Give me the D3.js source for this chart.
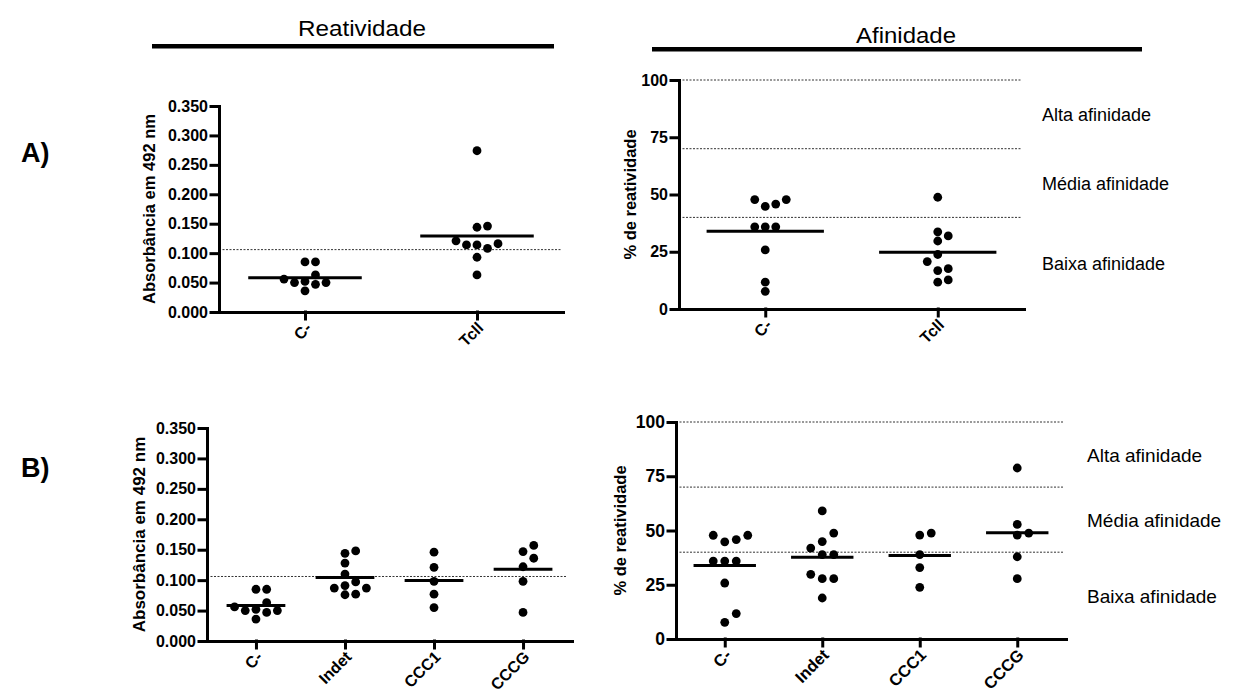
<!DOCTYPE html>
<html>
<head>
<meta charset="utf-8">
<script src="https://cdn.jsdelivr.net/npm/d3@7"></script>
<style>
  body { margin: 0; background: #fff; }
  text { font-family: Arial, "Liberation Sans", Helvetica, sans-serif; fill: #000; }
</style>
</head>
<body>
<div id="chart"></div>
<script>
// categories
var catsA = ["C-", "Tcll"];
var catsB = ["C-", "Indet", "CCC1", "CCCG"];

// absorbance at 492 nm (reactivity)
var absCneg  = [0.085, 0.085, 0.063, 0.056, 0.052, 0.050, 0.050, 0.047, 0.036];
var absTcll  = [0.274, 0.146, 0.144, 0.121, 0.116, 0.114, 0.114, 0.108, 0.093, 0.063];
var absIndet = [0.148, 0.144, 0.128, 0.110, 0.097, 0.091, 0.087, 0.087, 0.077, 0.076];
var absCCC1  = [0.146, 0.121, 0.098, 0.077, 0.055];
var absCCCG  = [0.157, 0.147, 0.136, 0.122, 0.098, 0.047];

// % reactivity (affinity)
var pctCneg  = [47.8, 47.8, 45.8, 44.8, 35.9, 35.9, 35.9, 25.8, 11.7, 7.7];
var pctTcll  = [48.8, 33.7, 31.9, 29.7, 23.8, 20.7, 17.6, 16.8, 12.7, 11.7];
var pctIndet = [59.0, 48.8, 44.9, 41.9, 38.9, 38.9, 29.8, 27.8, 27.8, 18.9];
var pctCCC1  = [48.8, 47.9, 38.9, 32.9, 23.8];
var pctCCCG  = [78.8, 52.8, 48.8, 47.9, 37.9, 27.8];

// ticks and reference lines
var absTicks = [0, 0.05, 0.10, 0.15, 0.20, 0.25, 0.30, 0.35];
var pctTicks = [0, 25, 50, 75, 100];
var absCutoff = [0.106];
var affinityCuts = [40, 70, 100];
var affinityLabels = ["Baixa afinidade", "Média afinidade", "Alta afinidade"];

var svg = d3.select("#chart").append("svg")
  .attr("width", 1234)
  .attr("height", 693)
  .style("background", "#fff");

// simple dot-plot layout: spread points that overlap vertically
function swarm(vals, y, minD) {
  var placed = [];
  var out = new Array(vals.length);
  var order = vals.map(function(v, i) { return i; })
    .sort(function(a, b) { return vals[a] - vals[b]; });
  order.forEach(function(i) {
    var py = y(vals[i]);
    for (var k = 0; ; k++) {
      var o = k === 0 ? 0 : (k % 2 ? (k + 1) / 2 : -k / 2);
      var hit = placed.some(function(p) { return p.o === o && Math.abs(p.y - py) < minD; });
      if (!hit) { placed.push({o: o, y: py}); out[i] = o; break; }
    }
  });
  return out;
}

function drawPanel(p) {
  var x = d3.scalePoint().domain(p.cats).range([p.left, p.right]).padding(p.pad);
  var y = d3.scaleLinear().domain(p.domain).range([p.bottom, p.top]);
  var g = svg.append("g");

  // dotted reference lines
  g.selectAll(".ref").data(p.refs).enter().append("line")
    .attr("x1", p.left).attr("x2", p.refEnd)
    .attr("y1", function(d) { return y(d); })
    .attr("y2", function(d) { return y(d); })
    .attr("stroke", "#333").attr("stroke-width", 1)
    .attr("stroke-dasharray", "2,1.5");

  // y axis
  var ya = g.append("g").attr("transform", "translate(" + p.left + ",0)")
    .call(d3.axisLeft(y).tickValues(p.ticks).tickFormat(p.fmt)
      .tickSize(8).tickSizeOuter(0).tickPadding(3));
  ya.selectAll("path, line").attr("stroke", "#000").attr("stroke-width", 3)
    .attr("stroke-linecap", "square");
  ya.selectAll("text").attr("font-size", p.tickFont).attr("font-weight", "bold")
    .attr("font-family", null).attr("fill", "#000");

  // x axis
  var xa = g.append("g").attr("transform", "translate(0," + p.bottom + ")")
    .call(d3.axisBottom(x).tickSize(7).tickSizeOuter(0));
  xa.selectAll("path, line").attr("stroke", "#000").attr("stroke-width", 3)
    .attr("stroke-linecap", "square");
  xa.selectAll("text")
    .attr("x", 0).attr("y", 0).attr("dy", "0.35em")
    .attr("transform", "translate(3,13) rotate(-45)")
    .attr("text-anchor", "end")
    .attr("font-size", p.labelFont).attr("font-weight", "bold")
    .attr("font-family", null).attr("fill", "#000");

  // y title
  g.append("text")
    .attr("transform", "translate(" + p.titleX + "," + (p.top + p.bottom) / 2 + ") rotate(-90)")
    .attr("text-anchor", "middle")
    .attr("dy", "0.35em")
    .attr("font-size", p.titleFont)
    .attr("font-weight", "bold")
    .text(p.title);

  // points and mean lines
  var step = x.step();
  p.series.forEach(function(vals, i) {
    var cx = x(p.cats[i]);
    var offs = swarm(vals, y, 9);
    g.selectAll(".dot" + i).data(vals).enter().append("circle")
      .attr("cx", function(d, j) { return cx + offs[j] * p.gap; })
      .attr("cy", function(d) { return y(d); })
      .attr("r", 4.4)
      .attr("fill", "#000");
    var m = d3.mean(vals);
    g.append("line")
      .attr("x1", cx - step * p.lineFrac / 2).attr("x2", cx + step * p.lineFrac / 2)
      .attr("y1", y(m)).attr("y2", y(m))
      .attr("stroke", "#000").attr("stroke-width", 3);
  });

  // affinity band labels
  if (p.bandLabels) {
    var edges = [0].concat(affinityCuts);
    affinityLabels.forEach(function(lab, i) {
      g.append("text")
        .attr("x", p.bandX)
        .attr("y", y((edges[i] + edges[i + 1]) / 2))
        .attr("dy", "0.38em")
        .attr("font-size", p.bandFont)
        .text(lab);
    });
  }
}

// section headers
svg.append("text").attr("x", 362).attr("y", 36).attr("text-anchor", "middle")
  .attr("font-size", 22).attr("textLength", 128).attr("lengthAdjust", "spacingAndGlyphs")
  .text("Reatividade");
svg.append("rect").attr("x", 152).attr("y", 44).attr("width", 402).attr("height", 4.5).attr("fill", "#000");
svg.append("text").attr("x", 906).attr("y", 43).attr("text-anchor", "middle")
  .attr("font-size", 22).attr("textLength", 100).attr("lengthAdjust", "spacingAndGlyphs")
  .text("Afinidade");
svg.append("rect").attr("x", 652).attr("y", 47).attr("width", 490).attr("height", 4.5).attr("fill", "#000");

svg.append("text").attr("x", 21).attr("y", 162).attr("font-size", 27).attr("font-weight", "bold").text("A)");
svg.append("text").attr("x", 21).attr("y", 477).attr("font-size", 27).attr("font-weight", "bold").text("B)");

var fmtAbs = d3.format(".3f");
var fmtPct = d3.format("d");

drawPanel({
  cats: catsA, series: [absCneg, absTcll], domain: [0, 0.35], ticks: absTicks, fmt: fmtAbs,
  left: 219, right: 563, top: 106, bottom: 312, pad: 0.5, gap: 10.5, lineFrac: 0.66,
  refs: absCutoff, refEnd: 561, tickFont: 16, labelFont: 16, titleFont: 16.5, titleX: 149,
  title: "Absorbância em 492 nm"
});
drawPanel({
  cats: catsA, series: [pctCneg, pctTcll], domain: [0, 100], ticks: pctTicks, fmt: fmtPct,
  left: 679, right: 1024, top: 80, bottom: 309, pad: 0.5, gap: 10.5, lineFrac: 0.68,
  refs: affinityCuts, refEnd: 1021, tickFont: 16, labelFont: 16, titleFont: 16.5, titleX: 630,
  title: "% de reatividade", bandLabels: true, bandX: 1042, bandFont: 18
});
drawPanel({
  cats: catsB, series: [absCneg, absIndet, absCCC1, absCCCG], domain: [0, 0.35], ticks: absTicks, fmt: fmtAbs,
  left: 207, right: 572, top: 428, bottom: 641, pad: 0.55, gap: 10.7, lineFrac: 0.66,
  refs: absCutoff, refEnd: 567, tickFont: 16, labelFont: 16, titleFont: 17, titleX: 139,
  title: "Absorbância em 492 nm"
});
drawPanel({
  cats: catsB, series: [pctCneg, pctIndet, pctCCC1, pctCCCG], domain: [0, 100], ticks: pctTicks, fmt: fmtPct,
  left: 676, right: 1066, top: 422, bottom: 639, pad: 0.5, gap: 11.5, lineFrac: 0.64,
  refs: affinityCuts, refEnd: 1063, tickFont: 17.5, labelFont: 16.5, titleFont: 16.5, titleX: 620,
  title: "% de reatividade", bandLabels: true, bandX: 1087, bandFont: 19
});
</script>
</body>
</html>
